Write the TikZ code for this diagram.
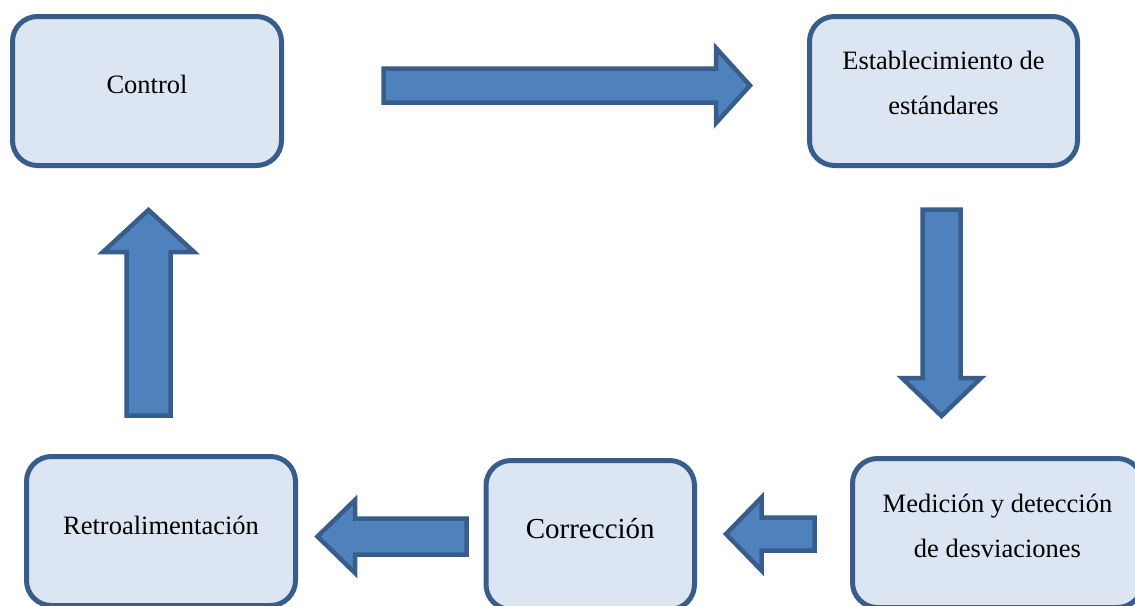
\documentclass[tikz,border=0pt]{standalone}
\usepackage{fontspec}
\setmainfont{Liberation Serif}
\usetikzlibrary{calc}
\definecolor{boxfill}{HTML}{DCE6F2}
\definecolor{edgeblue}{HTML}{385D8A}
\definecolor{arrowfill}{HTML}{4F81BD}
\begin{document}
\begin{tikzpicture}[x=1pt,y=-1pt,
  stagebox/.style={draw=edgeblue, fill=boxfill, line width=5pt,
    rounded corners=25pt, inner sep=0pt, minimum height=149pt},
  stagetext/.style={inner sep=0pt, anchor=base, align=center,
    font=\fontsize{26.5}{45}\selectfont},
  blockarrow/.style={draw=edgeblue, fill=arrowfill, line width=4.5pt,
    line join=miter}]
\useasboundingbox (0,0) rectangle (1135,605);
\clip (0,0) rectangle (1135,605);

% stage boxes
\node[stagebox, minimum width=269pt] (ctrl)  at (147,91) {};
\node[stagebox, minimum width=268pt] (estab) at (943.5,91) {};
\node[stagebox, minimum width=269pt] (retro) at (161,531) {};
\node[stagebox, minimum width=208.5pt] (corr) at (590.25,535) {};
\node[stagebox, minimum width=290pt] (med)   at (997.5,533) {};

% stage labels (base = baseline of the last line)
\node[stagetext] (ctrlt)  at ($(ctrl.north)+(0,79.5)$) {Control};
\node[stagetext] (estabt) at ($(estab.north)+(0,100)$) {Establecimiento de\\estándares};
\node[stagetext] (medt)   at ($(med.north)+(0,101)$) {Medición y detección\\de desviaciones};
\node[stagetext] (retrot) at ($(retro.north)+(0,80.5)$) {Retroalimentación};
\node[stagetext, font=\fontsize{29}{45}\selectfont] (corrt) at ($(corr.north)+(0,80.5)$) {Corrección};

% block arrows of the cycle
\draw[blockarrow] (383.5,68.5) -- (716,68.5) -- (716,48) -- (750,85.5)
  -- (716,123) -- (716,102.5) -- (383.5,102.5) -- cycle;
\draw[blockarrow] (922.5,209.5) -- (960.5,209.5) -- (960.5,378) -- (981,378)
  -- (941.5,416) -- (902,378) -- (922.5,378) -- cycle;
\draw[blockarrow] (814.5,517.5) -- (761.5,517.5) -- (761.5,497.5) -- (726,534)
  -- (761.5,570.5) -- (761.5,550.5) -- (814.5,550.5) -- cycle;
\draw[blockarrow] (466.5,518.5) -- (355,518.5) -- (355,500) -- (317.5,536.5)
  -- (355,573) -- (355,554.5) -- (466.5,554.5) -- cycle;
\draw[blockarrow] (126.5,415.5) -- (126.5,252) -- (103,252) -- (148.5,210)
  -- (194,252) -- (170.5,252) -- (170.5,415.5) -- cycle;
\end{tikzpicture}
\end{document}
